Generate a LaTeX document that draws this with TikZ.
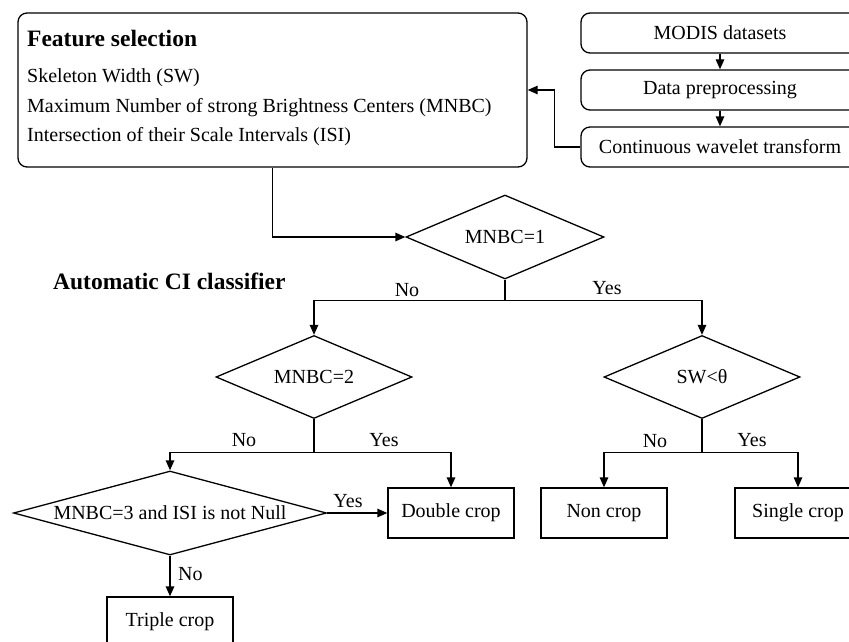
\documentclass[tikz,border=0pt]{standalone}
\usepackage{fontspec}
\setmainfont{Liberation Serif}
\usetikzlibrary{shapes.geometric,arrows.meta}
\tikzset{
  lw/.style={line width=1.3pt},
  arr/.style={lw,-{Triangle[length=10pt,width=8.5pt]}},
  rbox/.style={draw,lw,rounded corners=9pt,inner sep=0pt},
  sbox/.style={draw,lw,inner sep=0pt,minimum width=126pt,minimum height=50pt,font=\fontsize{20}{24}\selectfont},
  dia/.style={draw,lw,diamond,inner sep=0pt},
  txt/.style={inner sep=0pt,font=\fontsize{20}{24}\selectfont},
  btxt/.style={inner sep=0pt,font=\fontsize{23.5}{28}\selectfont\bfseries},
}
\begin{document}
\begin{tikzpicture}[x=1pt,y=-1pt]
\useasboundingbox (0,0) rectangle (849,642);
\clip (0,0) rectangle (849,642);
% feature box
\node[rbox,minimum width=509pt,minimum height=154pt] (feat) at (272.5,90) {};
\node[btxt,anchor=base west] (ft) at (27,47) {Feature selection};
\node[txt,anchor=base west] (f1) at (27,83) {Skeleton Width (SW)};
\node[txt,anchor=base west] (f2) at (27,112) {Maximum Number of strong Brightness Centers (MNBC)};
\node[txt,anchor=base west] (f3) at (27,141) {Intersection of their Scale Intervals (ISI)};
% data boxes
\node[rbox,minimum width=278pt,minimum height=40pt,font=\fontsize{20}{24}\selectfont] (modis) at (720,33) {MODIS datasets};
\node[rbox,minimum width=278pt,minimum height=40pt,font=\fontsize{20}{24}\selectfont] (prep) at (720,90) {Data preprocessing};
\node[rbox,minimum width=278pt,minimum height=40pt,font=\fontsize{20}{24}\selectfont] (cwt) at (720,147) {Continuous wavelet transform};
\draw[arr] (modis.south) -- (prep.north);
\draw[arr] (prep.south) -- (cwt.north);
\draw[arr] (cwt.west) -- ++(-26,0) |- (feat.east);
% classifier title
\node[btxt,anchor=base west] (clt) at (53,289) {Automatic CI classifier};
% diamonds
\node[dia,minimum width=198pt,minimum height=84pt] (d1) at (505,237) {};
\node[txt] (d1t) at (d1) {MNBC=1};
\node[dia,minimum width=196pt,minimum height=83pt] (d2) at (314,377) {};
\node[txt] (d2t) at (d2) {MNBC=2};
\node[dia,minimum width=196pt,minimum height=83pt] (d4) at (702,377) {};
\node[txt] (d4t) at (d4) {SW<θ};
\node[dia,minimum width=313pt,minimum height=84pt] (d3) at (170,513) {};
\node[txt] (d3t) at (d3) {MNBC=3 and ISI is not Null};
% result boxes
\node[sbox] (dbl) at (451,513) {Double crop};
\node[sbox] (non) at (604,513) {Non crop};
\node[sbox] (sgl) at (798,513) {Single crop};
\node[sbox] (tri) at (170,622) {Triple crop};
% connectors
\draw[arr] (feat.south) |- (d1.west);
\draw[lw] (d1.south) -- ++(0,21) coordinate (b1);
\draw[arr] (b1) -| (d2.north);
\draw[arr] (b1) -| (d4.north);
\draw[lw] (d2.south) -- ++(0,33) coordinate (b2);
\draw[arr] (b2) -| (d3.north);
\draw[arr] (b2) -| (dbl.north);
\draw[lw] (d4.south) -- ++(0,33) coordinate (b4);
\draw[arr] (b4) -| (non.north);
\draw[arr] (b4) -| (sgl.north);
\draw[arr] (d3.east) -- (dbl.west);
\draw[arr] (d3.south) -- (tri.north);
% labels
\node[txt,anchor=base] (l1n) at (407,296) {No};
\node[txt,anchor=base] (l1y) at (607,294) {Yes};
\node[txt,anchor=base] (l2n) at (244,446) {No};
\node[txt,anchor=base] (l2y) at (384,446) {Yes};
\node[txt,anchor=base] (l4n) at (655,447) {No};
\node[txt,anchor=base] (l4y) at (752,446) {Yes};
\node[txt,anchor=base] (l3y) at (348,507) {Yes};
\node[txt,anchor=base west] (l3n) at (178,580) {No};
\end{tikzpicture}
\end{document}
